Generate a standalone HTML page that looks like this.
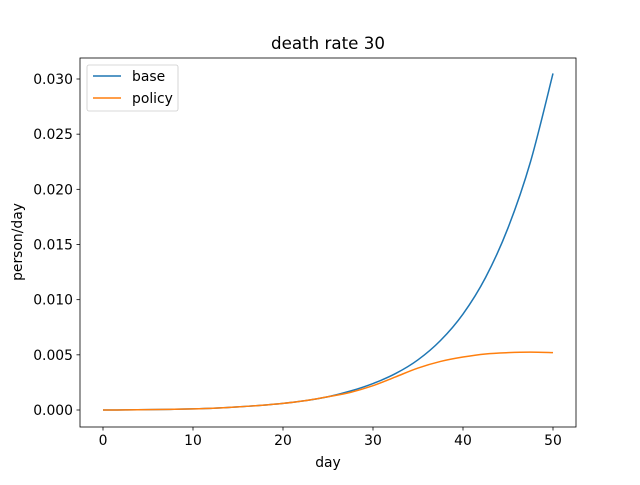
<!DOCTYPE html>
<html><head><meta charset="utf-8"><style>
body{margin:0;background:#fff}
svg text{font-family:"DejaVu Sans","Liberation Sans",sans-serif;fill:#000}
</style></head><body>
<svg id="chart" width="640" height="480"></svg>
<script>
const days=[0,2.5,5,7.5,10,12.5,15,17.5,20,22.5,25,27.5,30,32.5,35,37.5,40,42.5,45,47.5,50];
const baseVals=[0,0.00001,0.00003,0.00006,0.0001,0.00017,0.00028,0.00042,0.0006,0.00085,0.0012,0.00172,0.0024,0.0033,0.00455,0.0063,0.0087,0.012,0.0165,0.0225,0.0305];
const policyVals=[0,0.00001,0.00003,0.00006,0.0001,0.00017,0.00028,0.00042,0.0006,0.00085,0.0012,0.0016,0.0022,0.003,0.0038,0.0044,0.0048,0.00508,0.0052,0.00525,0.0052];
const xTicks=[0,10,20,30,40,50];
const yTicks=[0,0.005,0.01,0.015,0.02,0.025,0.03];
const yLabels=["0.000","0.005","0.010","0.015","0.020","0.025","0.030"];
const ns="http://www.w3.org/2000/svg",svg=document.getElementById('chart');
const L=80,R=576,T=58,B=427;
const sx=d=>103+d*9, sy=v=>410-v*331/0.03;
function mk(t,a,p){const e=document.createElementNS(ns,t);for(const k in a)e.setAttribute(k,a[k]);(p||svg).appendChild(e);return e;}
xTicks.forEach(d=>{
const g=mk('g',{});


mk('line',{x1:sx(d),x2:sx(d),y1:B,y2:B+3.5,stroke:'#000','stroke-width':0.8},g);
const t=mk('text',{x:sx(d),y:B+18,'text-anchor':'middle','font-size':13.9},g);t.textContent=d;});
yTicks.forEach((v,i)=>{
const g=mk('g',{});


mk('line',{x1:L-3.5,x2:L,y1:sy(v),y2:sy(v),stroke:'#000','stroke-width':0.8},g);
const t=mk('text',{x:L-7,y:sy(v)+5,'text-anchor':'end','font-size':13.9},g);t.textContent=yLabels[i];});
function path(vals){const p=days.map((x,i)=>[sx(x),sy(vals[i])]);
let d='M'+p[0][0]+','+p[0][1];
for(let i=0;i<p.length-1;i++){const p0=p[Math.max(i-1,0)],p1=p[i],p2=p[i+1],p3=p[Math.min(i+2,p.length-1)];
d+=' C'+(p1[0]+(p2[0]-p0[0])/6)+','+(p1[1]+(p2[1]-p0[1])/6)+' '+(p2[0]-(p3[0]-p1[0])/6)+','+(p2[1]-(p3[1]-p1[1])/6)+' '+p2[0]+','+p2[1];}
return d;}
const l1=mk('path',{d:path(baseVals),fill:'none',stroke:'#1f77b4','stroke-width':1.5});


const l2=mk('path',{d:path(policyVals),fill:'none',stroke:'#ff7f0e','stroke-width':1.5});


const fr=mk('rect',{x:L,y:T,width:R-L,height:B-T,fill:'none',stroke:'#000','stroke-width':0.8});


</script>
<svg style="position:absolute;left:0;top:0" width="640" height="480">
<text x="328" y="49" text-anchor="middle" font-size="16.7">death rate 30</text>
<text x="328" y="467" text-anchor="middle" font-size="13.9">day</text>
<text transform="translate(22,242) rotate(-90)" text-anchor="middle" font-size="13.9">person/day</text>
<g>
<rect x="87" y="65" width="91" height="46" rx="2" fill="#fff" stroke="#ccc" stroke-width="0.8"/>
<line x1="93" x2="121" y1="76" y2="76" stroke="#1f77b4" stroke-width="1.5"/>
<text x="132" y="81" font-size="13.9">base</text>
<line x1="93" x2="121" y1="98" y2="98" stroke="#ff7f0e" stroke-width="1.5"/>
<text x="132" y="103" font-size="13.9">policy</text>
</g>
</svg>
</body></html>
